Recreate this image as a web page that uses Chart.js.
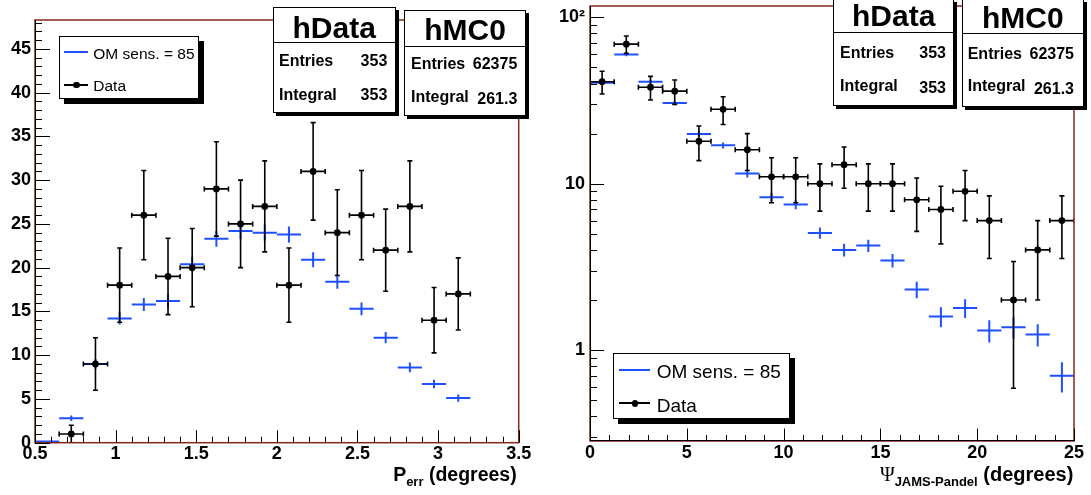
<!DOCTYPE html>
<html>
<head>
<meta charset="utf-8">
<script src="https://cdn.jsdelivr.net/npm/chart.js@4.4.1/dist/chart.umd.min.js"></script>
<style>
  body { margin: 0; background: #fff; width: 1091px; height: 495px; position: relative; overflow: hidden;
         font-family: "Liberation Sans", Arial, Helvetica, sans-serif; color: #000; }
  canvas { position: absolute; top: 0; }
  .t { position: absolute; white-space: nowrap; line-height: 1; }
  .sub { font-size: 13px; position: relative; top: 5px; line-height: 0; }
  .psi { font-family: "Liberation Serif", "DejaVu Serif", serif; font-weight: normal; line-height: 0; }
  .box { position: absolute; box-sizing: border-box; background: #fff; border: 1px solid #000; }
  .bar { position: absolute; }
</style>
</head>
<body>
<canvas id="perr" width="545" height="495" style="left:0"></canvas>
<canvas id="psi" width="546" height="495" style="left:545px"></canvas>
<script>
// ---- P_err (bin width 0.15 deg) ----
const perrBinWidth = 0.15;
const perrCenters = [0.575, 0.725, 0.875, 1.025, 1.175, 1.325, 1.475, 1.625, 1.775,
                     1.925, 2.075, 2.225, 2.375, 2.525, 2.675, 2.825, 2.975, 3.125];
const perrData    = [0, 1, 9, 18, 26, 19, 20, 29, 25, 27, 18, 31, 24, 26, 22, 27, 14, 17];
const perrDataErr = [0, 1, 3, 4.24, 5.10, 4.36, 4.47, 5.39, 5.00, 5.20, 4.24, 5.57, 4.90, 5.10, 4.69, 5.20, 3.74, 4.12];
const perrMC      = [0.15, 2.8, 9.0, 14.2, 15.8, 16.2, 20.4, 23.3, 24.2, 24.0, 23.8, 20.9, 18.4, 15.3, 12.0, 8.6, 6.7, 5.1];
const perrMCErr   = [0.07, 0.31, 0.56, 0.70, 0.74, 0.75, 0.85, 0.90, 0.92, 0.92, 0.91, 0.86, 0.80, 0.73, 0.65, 0.55, 0.48, 0.42];
const perrXTicks  = [0.5, 1, 1.5, 2, 2.5, 3, 3.5];
const perrXLabels = ['0.5', '1', '1.5', '2', '2.5', '3', '3.5'];
const perrYTicks  = [0, 5, 10, 15, 20, 25, 30, 35, 40, 45];
const perrYLabels = ['0', '5', '10', '15', '20', '25', '30', '35', '40', '45'];

// ---- Psi JAMS-Pandel (bin width 1.25 deg) ----
const psiBinWidth = 1.25;
const psiCenters = [0.625, 1.875, 3.125, 4.375, 5.625, 6.875, 8.125, 9.375, 10.625, 11.875,
                    13.125, 14.375, 15.625, 16.875, 18.125, 19.375, 20.625, 21.875, 23.125, 24.375];
const psiData    = [41, 69, 38, 36, 18, 28, 16, 11, 11, 10, 13, 10, 10, 8, 7, 9, 6, 2, 4, 6];
const psiDataErr = [6.40, 8.31, 6.16, 6.00, 4.24, 5.29, 4.00, 3.32, 3.32, 3.16, 3.61, 3.16, 3.16, 2.83, 2.65, 3.00, 2.45, 1.41, 2.00, 2.45];
const psiMC      = [40.4, 59.7, 41.0, 30.6, 19.9, 17.0, 11.5, 8.3, 7.5, 5.06, 4.0, 4.25, 3.46, 2.31, 1.59, 1.79, 1.31, 1.37, 1.24, 0.70];
const psiMCErr   = [1.10, 1.34, 1.11, 0.96, 0.77, 0.71, 0.59, 0.50, 0.47, 0.39, 0.35, 0.36, 0.32, 0.26, 0.22, 0.23, 0.20, 0.20, 0.19, 0.145];
const psiXTicks  = [0, 5, 10, 15, 20, 25];
const psiXLabels = ['0', '5', '10', '15', '20', '25'];
const psiYTicks  = [1, 10, 100];
const psiYLabels = ['1', '10', '10\u00b2'];

const blue = '#1f50ff';
const frameRed = '#86261a';
const fontFamily = '"Liberation Sans", Arial, Helvetica, sans-serif';

function points(centers, vals, errs) {
  return centers.map((c, i) => ({ x: c, y: vals[i], err: errs[i] })).filter(p => p.y > 0);
}

// horizontal bin-width bar + vertical error bar for every point, drawn under the markers
const histErrors = {
  id: 'histErrors',
  beforeDatasetsDraw(chart) {
    const { ctx, chartArea: a, scales: { x, y } } = chart;
    ctx.save();
    ctx.beginPath();
    ctx.rect(a.left, a.top, a.width, a.height);
    ctx.clip();
    chart.data.datasets.forEach(ds => {
      const half = ds.binWidth / 2;
      ctx.strokeStyle = ds.barColor;
      ctx.lineWidth = ds.barWidth;
      ds.data.forEach(p => {
        const px = x.getPixelForValue(p.x);
        const py = y.getPixelForValue(p.y);
        const x0 = x.getPixelForValue(p.x - half);
        const x1 = x.getPixelForValue(p.x + half);
        const yLo = y.getPixelForValue(Math.max(p.y - p.err, y.min));
        const yHi = y.getPixelForValue(p.y + p.err);
        ctx.beginPath();
        ctx.moveTo(x0, py); ctx.lineTo(x1, py);
        ctx.moveTo(px, yLo); ctx.lineTo(px, yHi);
        if (ds.caps) {
          ctx.moveTo(x0, py - 2.5); ctx.lineTo(x0, py + 2.5);
          ctx.moveTo(x1, py - 2.5); ctx.lineTo(x1, py + 2.5);
          ctx.moveTo(px - 2.5, yLo); ctx.lineTo(px + 2.5, yLo);
          ctx.moveTo(px - 2.5, yHi); ctx.lineTo(px + 2.5, yHi);
        }
        ctx.stroke();
      });
    });
    ctx.restore();
  }
};

// frame plus inward major/minor ticks
const rootAxes = {
  id: 'rootAxes',
  afterDraw(chart, args, opts) {
    const { ctx, chartArea: a, scales: { x, y } } = chart;
    ctx.save();
    ctx.strokeStyle = frameRed;
    ctx.lineWidth = 1.5;
    ctx.strokeRect(a.left, a.top, a.right - a.left, a.bottom - a.top);

    ctx.strokeStyle = '#000';
    ctx.lineWidth = 1;
    ctx.beginPath();
    ctx.moveTo(a.left + 0.5, a.top);
    ctx.lineTo(a.left + 0.5, a.bottom);
    if (opts.blackBottom) {
      ctx.moveTo(a.left, a.bottom - 0.5);
      ctx.lineTo(a.right, a.bottom - 0.5);
    }
    const nx = Math.round((x.max - x.min) / opts.xMinor);
    for (let i = 0; i <= nx; i++) {
      const v = x.min + i * opts.xMinor;
      const major = Math.abs(v / opts.xMajor - Math.round(v / opts.xMajor)) < 1e-6;
      const px = Math.round(x.getPixelForValue(v)) + 0.5;
      ctx.moveTo(px, a.bottom);
      ctx.lineTo(px, a.bottom - (major ? 12.5 : 6));
    }
    const yt = [];
    if (opts.log) {
      for (let e = Math.floor(Math.log10(y.min)); e <= Math.ceil(Math.log10(y.max)); e++) {
        for (let k = 1; k <= 9; k++) {
          const v = k * Math.pow(10, e);
          if (v >= y.min && v <= y.max) yt.push({ v, major: k === 1 });
        }
      }
    } else {
      const ny = Math.floor((y.max - y.min) / opts.yMinor + 1e-9);
      for (let i = 0; i <= ny; i++) {
        const v = y.min + i * opts.yMinor;
        yt.push({ v, major: Math.abs(v / opts.yMajor - Math.round(v / opts.yMajor)) < 1e-6 });
      }
    }
    yt.forEach(t => {
      const py = Math.round(y.getPixelForValue(t.v)) + 0.5;
      ctx.moveTo(a.left, py);
      ctx.lineTo(a.left + (t.major ? opts.yMajorLen : 7), py);
    });
    ctx.stroke();
    ctx.restore();
  }
};

function fixedWidth(w) {
  return s => { s.width = w; s.paddingTop = 0; s.paddingBottom = 0; s.paddingLeft = 0; s.paddingRight = 0; };
}
function fixedHeight(h) {
  return s => { s.height = h; s.paddingTop = 0; s.paddingBottom = 0; s.paddingLeft = 0; s.paddingRight = 0; };
}
function useTicks(vals) {
  return s => { s.ticks = vals.map(v => ({ value: v })); };
}

function histChart(id, cfg) {
  return new Chart(document.getElementById(id), {
    type: 'scatter',
    data: {
      datasets: [
        {
          label: 'OM sens. = 85',
          data: points(cfg.centers, cfg.mc, cfg.mcErr),
          binWidth: cfg.binWidth, barColor: blue, barWidth: 2, caps: false,
          pointRadius: 0, pointHoverRadius: 0
        },
        {
          label: 'Data',
          data: points(cfg.centers, cfg.data, cfg.dataErr),
          binWidth: cfg.binWidth, barColor: '#000', barWidth: 1.6, caps: true,
          pointRadius: 3.4, pointHoverRadius: 3.4, pointBackgroundColor: '#000', pointBorderWidth: 0
        }
      ]
    },
    options: {
      responsive: false,
      animation: false,
      devicePixelRatio: 1,
      layout: { padding: cfg.padding },
      plugins: {
        legend: { display: false },
        tooltip: { enabled: false },
        rootAxes: cfg.axes
      },
      scales: {
        x: {
          type: 'linear',
          min: cfg.xMin, max: cfg.xMax,
          grid: { display: false, drawTicks: false },
          border: { display: false },
          afterFit: fixedHeight(cfg.xHeight),
          afterBuildTicks: useTicks(cfg.xTicks),
          ticks: {
            autoSkip: false, maxRotation: 0, padding: 1, color: '#000',
            font: { family: fontFamily, size: 18, weight: 'bold' },
            callback: (v, i) => cfg.xLabels[i]
          }
        },
        y: {
          type: cfg.yType,
          min: cfg.yMin, max: cfg.yMax,
          grid: { display: false, drawTicks: false },
          border: { display: false },
          afterFit: fixedWidth(cfg.yWidth),
          afterBuildTicks: useTicks(cfg.yTicks),
          ticks: {
            autoSkip: false, padding: cfg.yPad, color: '#000',
            font: { family: fontFamily, size: 18, weight: 'bold' },
            callback: (v, i) => cfg.yLabels[i]
          }
        }
      }
    },
    plugins: [histErrors, rootAxes]
  });
}

histChart('perr', {
  centers: perrCenters, data: perrData, dataErr: perrDataErr, mc: perrMC, mcErr: perrMCErr,
  binWidth: perrBinWidth,
  xMin: 0.5, xMax: 3.5, xTicks: perrXTicks, xLabels: perrXLabels,
  yType: 'linear', yMin: 0, yMax: 48.3, yTicks: perrYTicks, yLabels: perrYLabels,
  padding: { top: 20, right: 26.3, bottom: 0, left: 0 },
  yWidth: 35, xHeight: 52.3, yPad: 4,
  axes: { xMinor: 0.1, xMajor: 0.5, yMinor: 1, yMajor: 5, yMajorLen: 15, log: false, blackBottom: false }
});

histChart('psi', {
  centers: psiCenters, data: psiData, dataErr: psiDataErr, mc: psiMC, mcErr: psiMCErr,
  binWidth: psiBinWidth,
  xMin: 0, xMax: 25, xTicks: psiXTicks, xLabels: psiXLabels,
  yType: 'logarithmic', yMin: 0.284, yMax: 117, yTicks: psiYTicks, yLabels: psiYLabels,
  padding: { top: 6, right: 17, bottom: 0, left: 0 },
  yWidth: 45, xHeight: 54, yPad: 5,
  axes: { xMinor: 1, xMajor: 5, yMajorLen: 14, log: true, blackBottom: true }
});

// ---- stats boxes, legends and axis titles ----
function addText(html, x, base, size, opts) {
  opts = opts || {};
  const el = document.createElement('div');
  el.className = 't';
  el.innerHTML = html;
  el.style.fontSize = size + 'px';
  if (opts.bold) el.style.fontWeight = 'bold';
  el.style.top = (base - 0.8465 * size) + 'px';
  if (opts.align === 'right') {
    el.style.right = (1091 - x) + 'px';
  } else if (opts.align === 'center') {
    el.style.left = x + 'px';
    el.style.transform = 'translateX(-50%)';
  } else {
    el.style.left = x + 'px';
  }
  document.body.appendChild(el);
}

function addBox(x, y, w, h, shadow) {
  const el = document.createElement('div');
  el.className = 'box';
  Object.assign(el.style, { left: x + 'px', top: y + 'px', width: w + 'px', height: h + 'px',
                            boxShadow: shadow + 'px ' + shadow + 'px 0 #000' });
  document.body.appendChild(el);
}

function addBar(x, y, w, h, color, round) {
  const el = document.createElement('div');
  el.className = 'bar';
  Object.assign(el.style, { left: x + 'px', top: y + 'px', width: w + 'px', height: h + 'px', background: color });
  if (round) el.style.borderRadius = '50%';
  document.body.appendChild(el);
}

function statsBox(title, x, y, w, h, divider, rows) {
  addBox(x, y, w, h, 3);
  addBar(x, divider, w, 1, '#000');
  addText(title.text, x + w / 2, title.base, 30, { bold: true, align: 'center' });
  rows.forEach(r => {
    addText(r.name, r.left, r.base, 16, { bold: true });
    addText(r.value, r.right, r.valueBase || r.base, 16, { bold: true, align: 'right' });
  });
}

function legend(x, y, w, h, lineX, lineW, rows, size) {
  addBox(x, y, w, h, 5);
  addBar(lineX, Math.round(rows[0].y) - 1, lineW, 2, blue);
  addText('OM sens. = 85', rows[0].textX, rows[0].base, size);
  addBar(lineX, Math.round(rows[1].y) - 1, lineW, 2, '#000');
  addBar(lineX + lineW / 2 - 3.3, rows[1].y - 3.3, 6.6, 6.6, '#000', true);
  addText('Data', rows[1].textX, rows[1].base, size);
}

statsBox({ text: 'hData', base: 38.3 }, 272.7, 6.7, 123, 106, 42, [
  { name: 'Entries', value: '353', left: 279, right: 387.3, base: 66.7 },
  { name: 'Integral', value: '353', left: 279, right: 387.3, base: 100.7 }
]);
statsBox({ text: 'hMC0', base: 40.7 }, 404.3, 10, 121.4, 106, 45.5, [
  { name: 'Entries', value: '62375', left: 411, right: 517.3, base: 70 },
  { name: 'Integral', value: '261.3', left: 411, right: 517.3, base: 102.7, valueBase: 105 }
]);
statsBox({ text: 'hData', base: 26.7 }, 833.3, -1, 120.7, 107, 32, [
  { name: 'Entries', value: '353', left: 840, right: 946, base: 58.3 },
  { name: 'Integral', value: '353', left: 840, right: 946, base: 91.7, valueBase: 93.3 }
]);
statsBox({ text: 'hMC0', base: 28.3 }, 961.7, -1, 122.3, 108.3, 33, [
  { name: 'Entries', value: '62375', left: 967.7, right: 1074, base: 59.3 },
  { name: 'Integral', value: '261.3', left: 967.7, right: 1074, base: 91.7, valueBase: 95 }
]);

legend(59, 35.7, 140.3, 63.3, 64.3, 24, [
  { y: 51.7, textX: 93.3, base: 59.3 },
  { y: 85, textX: 93.3, base: 90.7 }
], 15.5);
legend(612.7, 353.3, 177.3, 65.7, 619.3, 31, [
  { y: 370, textX: 656.7, base: 378.3 },
  { y: 403.3, textX: 656.7, base: 411.7 }
], 19);

addText('P<span class="sub">err</span> (degrees)', 516.7, 481.7, 19.5, { bold: true, align: 'right' });
addText('<span class="psi">\u03a8</span><span class="sub">JAMS-Pandel</span> (degrees)', 1073.3, 480.7, 20,
        { bold: true, align: 'right' });
</script>
</body>
</html>
